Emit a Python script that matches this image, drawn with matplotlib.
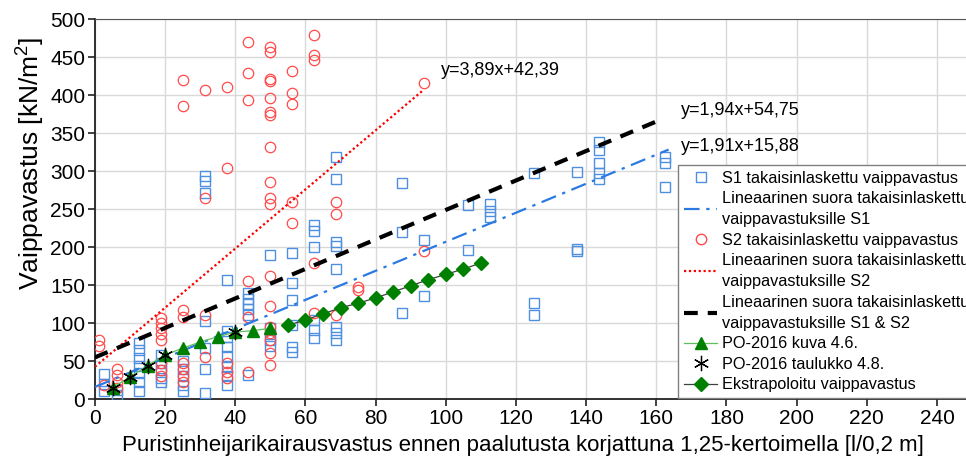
import numpy as np
import matplotlib
matplotlib.use("Agg")
import matplotlib.pyplot as plt
from matplotlib.lines import Line2D

plt.rcParams['font.family'] = ['Liberation Sans', 'DejaVu Sans']
plt.rcParams['mathtext.fontset'] = 'custom'
plt.rcParams['mathtext.rm'] = 'Liberation Sans'

# S1 back-calculated shaft resistance (x = corrected sounding resistance)
s1_x = [2.5, 2.5, 2.5, 6.25, 6.25,
        12.5, 12.5, 12.5, 12.5, 12.5, 12.5, 12.5,
        18.75, 18.75, 18.75, 18.75, 18.75,
        25, 25, 25, 25, 25,
        31.25, 31.25, 31.25, 31.25, 31.25, 31.25, 31.25,
        37.5, 37.5, 37.5, 37.5, 37.5, 37.5, 37.5, 37.5,
        43.75, 43.75, 43.75, 43.75, 43.75, 43.75,
        50, 50, 50, 50, 50,
        56.25, 56.25, 56.25, 56.25, 56.25, 56.25,
        62.5, 62.5, 62.5, 62.5, 62.5, 62.5,
        68.75, 68.75, 68.75, 68.75, 68.75, 68.75, 68.75, 68.75,
        87.5, 87.5, 87.5, 93.75, 93.75, 106.25, 106.25,
        112.5, 112.5, 112.5, 125, 125, 125, 137.5, 137.5, 137.5,
        143.75, 143.75, 143.75, 143.75, 143.75, 162.5, 162.5, 162.5]
s1_y = [33, 20, 10, 12, 5,
        74, 64, 54, 44, 34, 22, 10,
        58, 48, 38, 28, 22,
        50, 40, 30, 18, 10,
        293, 287, 271, 102, 67, 40, 8,
        157, 90, 82, 68, 56, 42, 30, 18,
        140, 132, 125, 118, 110, 32,
        189, 93, 86, 78, 70,
        192, 153, 130, 97, 68, 62,
        229, 221, 200, 104, 91, 80,
        318, 289, 206, 201, 171, 95, 87, 78,
        284, 220, 113, 209, 136, 255, 196,
        257, 247, 239, 298, 126, 111, 299, 198, 195,
        338, 327, 311, 298, 289, 318, 310, 279]

# S2 back-calculated shaft resistance
s2_x = [1.25, 1.25, 2.5, 6.25, 6.25, 6.25, 6.25,
        18.75, 18.75, 18.75, 18.75, 18.75, 18.75, 18.75, 18.75,
        25, 25, 25, 25, 25, 25, 25, 25,
        31.25, 31.25, 31.25, 31.25,
        37.5, 37.5, 37.5, 37.5, 37.5,
        43.75, 43.75, 43.75, 43.75, 43.75, 43.75,
        50, 50, 50, 50, 50, 50, 50, 50, 50, 50, 50, 50, 50, 50, 50, 50, 50, 50,
        56.25, 56.25, 56.25, 56.25, 56.25,
        62.5, 62.5, 62.5, 62.5, 62.5,
        68.75, 68.75, 68.75, 75, 75, 93.75, 93.75]
s2_y = [77, 70, 18, 40, 32, 22, 14,
        106, 100, 94, 86, 78, 48, 38, 30,
        420, 385, 117, 108, 47, 40, 30, 22,
        406, 264, 110, 55,
        410, 304, 48, 36, 28,
        470, 429, 393, 155, 108, 36,
        463, 456, 421, 418, 396, 378, 374, 331, 285, 265, 256, 162, 122, 95, 87, 78, 60, 45,
        431, 403, 388, 259, 231,
        479, 452, 446, 179, 113,
        259, 243, 110, 148, 143, 416, 195]

# regression lines: slope, intercept, x range
fit_s1 = (1.91, 15.88, 163.5)
fit_s2 = (3.89, 42.39, 93.75)
fit_all = (1.94, 54.75, 161.0)

# PO-2016 reference values
po_kuva_x = [5, 10, 15, 20, 25, 30, 35, 40, 45, 50]
po_kuva_y = [15, 29, 44, 58, 67, 75, 82, 88, 90, 93]
po_taul_x = [5, 10, 15, 20, 40]
po_taul_y = [15, 29, 44, 58, 88]
ekstra_x = [55, 60, 65, 70, 75, 80, 85, 90, 95, 100, 105, 110]
ekstra_y = [97, 104, 112, 120, 126, 133, 141, 149, 157, 164, 171, 179]

fig = plt.figure(figsize=(9.66, 4.59), dpi=100)
ax = fig.add_axes([0.0983, 0.1307, 0.908, 0.8279])

blue_pts = '#4f8fe0'
red_pts = '#ff4a4a'

ax.plot(s1_x, s1_y, linestyle='none', marker='s', markersize=6.5,
        markerfacecolor='none', markeredgecolor=blue_pts, markeredgewidth=1.0, zorder=3)
ax.plot(s2_x, s2_y, linestyle='none', marker='o', markersize=7.5,
        markerfacecolor='none', markeredgecolor=red_pts, markeredgewidth=0.9, zorder=3)

def fit_line(f):
    xs = np.array([0, f[2]])
    return xs, f[0] * xs + f[1]

x1, y1 = fit_line(fit_s1)
l_s1, = ax.plot(x1, y1, color='#2a7ae2', lw=1.6, dashes=(7, 3, 1.5, 3), zorder=4)
x2, y2 = fit_line(fit_s2)
l_s2, = ax.plot(x2, y2, color='#ff0000', lw=1.6, linestyle=(0, (1, 1.2)), zorder=4)
x3, y3 = fit_line(fit_all)
l_all, = ax.plot(x3, y3, color='black', lw=3.0, dashes=(3.3, 2.4), zorder=4)

l_kuva, = ax.plot(po_kuva_x, po_kuva_y, color='#5fbf5f', lw=0.9, marker='^',
                  markersize=8, markerfacecolor='#008000', markeredgecolor='#008000', zorder=5)
l_taul, = ax.plot(po_taul_x, po_taul_y, linestyle='none', marker=(6, 2, 0),
                  markersize=11, markeredgecolor='black', markeredgewidth=0.9, zorder=6)
l_ext, = ax.plot(ekstra_x, ekstra_y, color='#404040', lw=0.9, marker='D',
                 markersize=7, markerfacecolor='#008000', markeredgecolor='#008000', zorder=5)

ax.text(98.5, 432, 'y=3,89x+42,39', fontsize=13, va='center', ha='left')
ax.text(167, 380, 'y=1,94x+54,75', fontsize=13, va='center', ha='left')
ax.text(167, 332, 'y=1,91x+15,88', fontsize=13, va='center', ha='left')

ax.set_xlim(0, 250)
ax.set_ylim(0, 500)
ax.set_xticks(np.arange(0, 241, 20))
ax.set_yticks(np.arange(0, 501, 50))
ax.grid(True, color='#d9d9d9', lw=1.0)
ax.set_axisbelow(True)
ax.tick_params(axis='both', direction='out', length=5, width=1.2, labelsize=15,
               color='#222222', pad=2)
ax.spines['right'].set_visible(False)
ax.spines['top'].set_color('#555555')
ax.spines['left'].set_color('#222222')
ax.spines['bottom'].set_color('#222222')
ax.spines['left'].set_linewidth(1.3)
ax.spines['bottom'].set_linewidth(1.3)

ax.set_xlabel('Puristinheijarikairausvastus ennen paalutusta korjattuna 1,25-kertoimella [l/0,2 m]',
              fontsize=16)
ax.xaxis.set_label_coords(0.488, -0.095)
ax.set_ylabel('Vaippavastus [kN/m$^2$]', fontsize=19)
ax.yaxis.set_label_coords(-0.056, 0.62)

s1_handle = Line2D([], [], linestyle='none', marker='s', markersize=6.5,
                   markerfacecolor='none', markeredgecolor=blue_pts)
s2_handle = Line2D([], [], linestyle='none', marker='o', markersize=7.5,
                   markerfacecolor='none', markeredgecolor=red_pts)
handles = [s1_handle, l_s1, s2_handle, l_s2, l_all, l_kuva, l_taul, l_ext]
labels = ['S1 takaisinlaskettu vaippavastus',
          'Lineaarinen suora takaisinlaskettu\nvaippavastuksille S1',
          'S2 takaisinlaskettu vaippavastus',
          'Lineaarinen suora takaisinlaskettu\nvaippavastuksille S2',
          'Lineaarinen suora takaisinlaskettu\nvaippavastuksille S1 & S2',
          'PO-2016 kuva 4.6.',
          'PO-2016 taulukko 4.8.',
          'Ekstrapoloitu vaippavastus']
leg = ax.legend(handles, labels, loc='upper left', bbox_to_anchor=(0.665, 0.616),
                fontsize=11.7, frameon=True, fancybox=False, framealpha=1,
                edgecolor='#808080', borderpad=0.35, handlelength=2.05,
                handletextpad=0.3, labelspacing=0.34, borderaxespad=0)
for t in leg.get_texts():
    t.set_linespacing(1.5)
leg.get_frame().set_linewidth(1.0)
leg.set_zorder(10)

fig.savefig('out.png', dpi=100)
